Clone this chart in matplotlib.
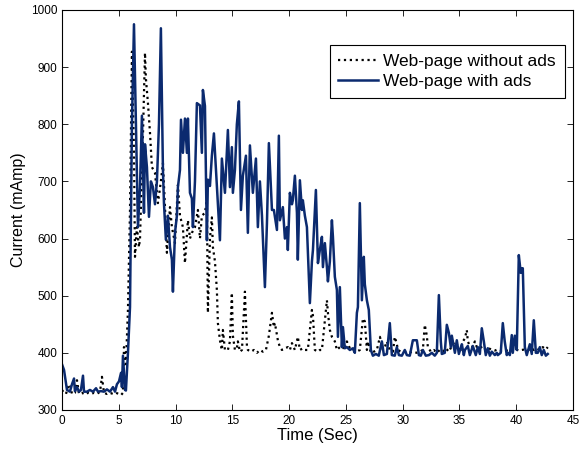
import matplotlib
matplotlib.use("Agg")
import matplotlib.pyplot as plt

plt.rcParams['font.family'] = ['Liberation Sans', 'DejaVu Sans']

# Web-page without ads (dotted black)
t_noads = [0.0, 0.18, 0.35, 0.53, 0.7, 0.88, 1.14, 1.32, 1.5, 1.76, 2.02, 2.29, 2.55, 2.82,
           3.08, 3.35, 3.52, 3.7, 3.96, 4.23, 4.49, 4.75, 5.02, 5.2, 5.37, 5.46, 5.63, 5.81,
           5.99, 6.16, 6.34, 6.43, 6.6, 6.78, 6.87, 7.13, 7.31, 7.39, 7.57, 7.75, 7.92, 8.19,
           8.45, 8.71, 8.89, 9.07, 9.24, 9.51, 9.68, 9.95, 10.21, 10.39, 10.65, 10.83, 11.09,
           11.27, 11.44, 11.71, 11.97, 12.15, 12.32, 12.59, 12.76, 12.85, 13.03, 13.2, 13.29,
           13.47, 13.64, 13.73, 13.91, 14.08, 14.17, 14.35, 14.61, 14.79, 14.96, 15.05, 15.23,
           15.4, 15.49, 15.67, 15.85, 16.11, 16.29, 16.37, 16.64, 16.9, 17.17, 17.43, 17.69,
           17.96, 18.22, 18.49, 18.66, 18.75, 19.01, 19.19, 19.37, 19.63, 19.89, 20.07, 20.25,
           20.51, 20.77, 20.95, 21.21, 21.39, 21.65, 21.83, 22.01, 22.1, 22.27, 22.54, 22.71,
           22.89, 23.15, 23.33, 23.42, 23.59, 23.77, 24.03, 24.21, 24.47, 24.65, 24.91, 25.09,
           25.35, 25.62, 25.97, 26.23, 26.5, 26.67, 26.85, 26.94, 27.2, 27.46, 27.73, 28.0,
           28.26, 28.43, 28.61, 28.87, 29.14, 29.31, 29.49, 29.58, 29.84, 30.19, 30.55, 30.9,
           31.25, 31.51, 31.78, 31.95, 32.13, 32.22, 32.48, 32.75, 33.01, 33.27, 33.54, 33.8,
           34.07, 34.33, 34.6, 34.86, 35.12, 35.3, 35.48, 35.65, 35.74, 35.92, 36.18, 36.36,
           36.53, 36.8, 37.06, 37.32, 37.59, 37.85, 38.12, 38.38, 38.64, 38.91, 39.17, 39.44,
           39.7, 39.96, 40.23, 40.49, 40.76, 41.02, 41.29, 41.55, 41.81, 42.08, 42.34, 42.61,
           42.78]
i_noads = [335, 330, 328, 340, 345, 328, 330, 352, 328, 330, 327, 330, 328, 330,
           328, 332, 358, 330, 328, 330, 328, 330, 328, 326, 330, 410, 380, 475,
           650, 927, 750, 568, 620, 585, 600, 780, 925, 880, 837, 785, 725, 715,
           662, 700, 732, 655, 575, 655, 620, 592, 694, 640, 620, 557, 632,
           600, 610, 620, 650, 600, 640, 645, 667, 470, 600, 637, 585,
           560, 510, 452, 422, 405, 440, 405, 405, 420, 505, 430, 405,
           408, 420, 402, 405, 507, 410, 405, 402, 405, 400, 405, 402,
           405, 430, 470, 445, 452, 422, 410, 405, 408, 410, 405, 417,
           405, 428, 405, 408, 405, 405, 440, 475, 465, 405, 402, 405,
           405, 457, 492, 470, 440, 428, 420, 405, 410, 412, 405, 420,
           408, 405, 402, 405, 460, 455, 405, 420, 400, 402, 405, 428,
           405, 410, 420, 405, 402, 428, 415, 405, 402, 402, 400, 402,
           400, 402, 405, 449, 430, 410, 402, 405, 400, 405, 402, 408,
           402, 412, 420, 412, 405, 420, 425, 440, 420, 412, 410, 420,
           410, 408, 412, 405, 408, 405, 404, 406, 404, 405, 404, 406,
           403, 406, 404, 405, 406, 404, 408, 405, 408, 405, 410, 406,
           410]

# Web-page with ads (solid navy)
t_ads = [0.0, 0.18, 0.44, 0.7, 0.88, 1.06, 1.14, 1.32, 1.5, 1.67, 1.85, 1.94, 2.2, 2.46,
         2.73, 3.0, 3.17, 3.43, 3.7, 3.96, 4.23, 4.49, 4.67, 4.84, 5.02, 5.2, 5.28, 5.37,
         5.55, 5.63, 5.81, 5.99, 6.16, 6.34, 6.51, 6.69, 6.87, 7.04, 7.22, 7.31, 7.48, 7.66,
         7.83, 8.01, 8.19, 8.36, 8.54, 8.71, 8.89, 8.98, 9.15, 9.33, 9.51, 9.68, 9.77, 9.95,
         10.12, 10.21, 10.39, 10.48, 10.65, 10.83, 11.0, 11.09, 11.27, 11.44, 11.53, 11.71,
         11.88, 12.15, 12.32, 12.41, 12.59, 12.76, 12.85, 13.03, 13.2, 13.38, 13.64, 13.91,
         14.08, 14.35, 14.61, 14.79, 14.96, 15.05, 15.23, 15.4, 15.58, 15.76, 15.93, 16.2,
         16.37, 16.55, 16.81, 17.08, 17.25, 17.43, 17.61, 17.87, 18.05, 18.22, 18.49, 18.66,
         18.93, 19.1, 19.19, 19.45, 19.63, 19.81, 19.89, 20.07, 20.25, 20.33, 20.51, 20.69,
         20.77, 20.95, 21.13, 21.21, 21.39, 21.57, 21.65, 21.83, 22.01, 22.1, 22.36, 22.54,
         22.71, 22.89, 22.98, 23.15, 23.33, 23.42, 23.59, 23.77, 23.86, 24.03, 24.21, 24.3,
         24.47, 24.65, 24.74, 24.91, 25.09, 25.35, 25.62, 25.79, 25.97, 26.06, 26.23, 26.41,
         26.58, 26.67, 26.85, 27.02, 27.2, 27.38, 27.64, 27.9, 28.17, 28.35, 28.61, 28.87,
         29.05, 29.31, 29.49, 29.67, 29.93, 30.19, 30.37, 30.63, 30.9, 31.25, 31.43, 31.6,
         31.78, 32.04, 32.31, 32.57, 32.83, 33.01, 33.19, 33.36, 33.45, 33.71, 33.89, 34.07,
         34.24, 34.33, 34.6, 34.77, 34.95, 35.21, 35.39, 35.48, 35.74, 35.92, 36.18, 36.44,
         36.62, 36.8, 36.97, 37.15, 37.32, 37.5, 37.68, 37.85, 38.12, 38.29, 38.38, 38.64,
         38.82, 38.99, 39.17, 39.26, 39.44, 39.61, 39.7, 39.88, 40.05, 40.23, 40.4, 40.49,
         40.58, 40.76, 40.93, 41.2, 41.37, 41.55, 41.73, 41.9, 42.08, 42.25, 42.43, 42.61,
         42.78]
i_ads = [380, 370, 335, 332, 345, 355, 333, 340, 332, 335, 360, 332, 332, 335,
         332, 338, 332, 333, 332, 336, 332, 340, 332, 345, 350, 365, 340, 395,
         335, 334, 400, 480, 800, 975, 800, 620, 690, 815, 645, 765, 725, 638,
         700, 690, 660, 700, 800, 968, 720, 662, 598, 640, 585, 563, 507, 610,
         640, 690, 720, 808, 750, 810, 750, 810, 680, 670, 620, 700,
         837, 833, 750, 860, 832, 597, 703, 692, 745, 784, 692, 597,
         740, 680, 790, 690, 760, 680, 720, 800, 840, 650, 710, 745,
         610, 763, 680, 740, 620, 700, 640, 515, 627, 767, 650, 650,
         615, 780, 632, 655, 600, 620, 580, 680, 660, 667, 710, 645,
         563, 702, 650, 667, 640, 620, 580, 487, 560, 580, 685, 557,
         580, 603, 550, 592, 550, 525, 560, 632, 603, 533, 510, 428,
         515, 410, 445, 408, 410, 405, 408, 400, 470, 480, 662, 492,
         568, 520, 492, 475, 405, 395, 398, 395, 420, 396, 398, 452,
         396, 395, 410, 396, 395, 405, 396, 395, 422, 422, 396, 395,
         405, 395, 396, 400, 395, 400, 501, 420, 398, 400, 449, 435,
         410, 430, 400, 422, 398, 415, 396, 405, 412, 396, 412, 396,
         410, 398, 443, 420, 396, 408, 395, 402, 396, 400, 396, 400,
         452, 420, 396, 400, 396, 431, 400, 430, 405, 571, 540, 548,
         548, 410, 396, 415, 398, 457, 400, 400, 410, 396, 405, 395,
         398]

fig = plt.figure(figsize=(5.82, 4.54), dpi=100)
ax = fig.add_axes([0.1065, 0.097, 0.878, 0.881])

ax.plot(t_noads, i_noads, color='black', linestyle=':', linewidth=1.6, label='Web-page without ads')
ax.plot(t_ads, i_ads, color='#0b2a6f', linestyle='-', linewidth=1.8, label='Web-page with ads')

ax.set_xlim(0, 45)
ax.set_ylim(300, 1000)
ax.set_xticks(range(0, 46, 5))
ax.set_yticks(range(300, 1001, 100))
ax.tick_params(direction='in', top=True, right=True, labelsize=8.5, length=4, width=0.6)
for s in ax.spines.values():
    s.set_linewidth(0.8)

ax.set_xlabel('Time (Sec)', fontsize=12, labelpad=1)
ax.set_ylabel('Current (mAmp)', fontsize=11.5, labelpad=3)

leg = ax.legend(loc='upper right', bbox_to_anchor=(0.984, 0.9125), fontsize=12.5,
                fancybox=False, framealpha=1, edgecolor='black', handlelength=2.3,
                handletextpad=0.3, borderpad=0.5, labelspacing=0.3, borderaxespad=0)
leg.get_frame().set_linewidth(0.8)

fig.savefig('out.png', dpi=100)
